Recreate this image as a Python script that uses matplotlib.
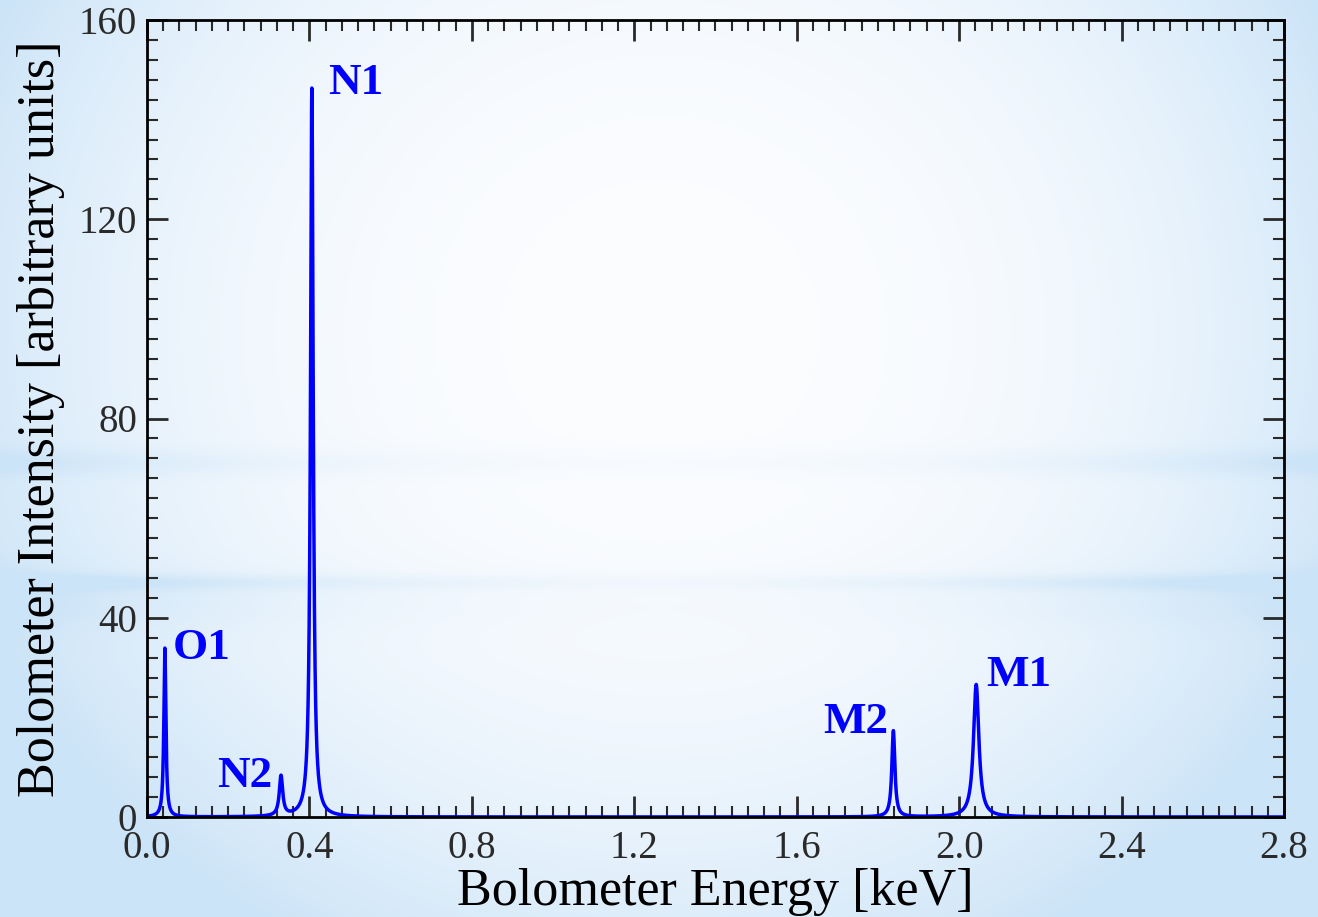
import numpy as np
import matplotlib
matplotlib.use("Agg")
import matplotlib.pyplot as plt
from matplotlib.ticker import MultipleLocator

# Emission lines: name, centre energy [keV], peak intensity, Lorentzian half-width [keV]
line_names = ["O1", "N2", "N1", "M2", "M1"]
line_energy = [0.044, 0.330, 0.406, 1.838, 2.042]
line_height = [33.9, 8.0, 146.3, 17.3, 26.6]
line_width = [0.003, 0.005, 0.004, 0.0045, 0.008]

# Label anchor points (keV, intensity) and alignment
label_x = [0.064, 0.308, 0.446, 1.825, 2.067]
label_y = [33.9, 8.2, 147.4, 19.1, 28.5]
label_ha = ["left", "right", "left", "right", "left"]

x_ticks = [0.0, 0.4, 0.8, 1.2, 1.6, 2.0, 2.4, 2.8]
y_ticks = [0, 40, 80, 120, 160]

W, H, DPI = 1318, 917, 100
fig = plt.figure(figsize=(W / DPI, H / DPI), dpi=DPI)

# Soft blue backdrop with horizontal light streaks
yy, xx = np.mgrid[0:H, 0:W].astype(float)
r = np.sqrt(((xx - 660) / 740) ** 2 + ((yy - 330) / 700) ** 2)
t = np.clip(r, 0, 1) ** 2.6
white = np.array([0.985, 0.99, 1.0])
blue = np.array([0.80, 0.895, 0.97])
edge = np.clip(np.abs(xx - 660) / 660, 0, 1) ** 1.5
band = (0.30 * np.exp(-((yy - 462) / 14) ** 2) + 0.50 * np.exp(-((yy - 582) / 8) ** 2)
        + 0.22 * np.exp(-((yy - 600) / 30) ** 2)) * (0.25 + 0.75 * edge)
t = np.clip(t + band, 0, 1)
bg = white[None, None, :] * (1 - t[..., None]) + blue[None, None, :] * t[..., None]
bg_ax = fig.add_axes([0, 0, 1, 1], zorder=-10)
bg_ax.imshow(bg, aspect="auto", interpolation="bilinear")
bg_ax.axis("off")

ax = fig.add_axes([147 / W, 1 - 817 / H, (1284 - 147) / W, (817 - 20) / H])
ax.patch.set_alpha(0)

energy = np.linspace(0.0, 2.8, 20001)
spectrum = np.zeros_like(energy)
for e0, a, g in zip(line_energy, line_height, line_width):
    spectrum += a * g ** 2 / ((energy - e0) ** 2 + g ** 2)

ax.plot(energy, spectrum, color="#0000ff", lw=2.5, solid_joinstyle="round")

serif = ["Liberation Serif", "DejaVu Serif"]
for name, lx, ly, ha in zip(line_names, label_x, label_y, label_ha):
    ax.text(lx, ly, name, color="#0000ff", fontsize=32.5, fontweight="bold",
            family=serif, ha=ha, va="center")

ax.set_xlim(0, 2.8)
ax.set_ylim(0, 160)
ax.set_xticks(x_ticks)
ax.set_yticks(y_ticks)
ax.set_xticklabels([f"{v:.1f}" for v in x_ticks], family=serif, fontsize=28)
ax.set_yticklabels([str(v) for v in y_ticks], family=serif, fontsize=28)
ax.xaxis.set_minor_locator(MultipleLocator(0.04))
ax.yaxis.set_minor_locator(MultipleLocator(4))
ax.tick_params(which="both", direction="in", top=True, right=True, colors="#2a2a2a")
ax.tick_params(which="major", length=15, width=2)
ax.tick_params(axis="x", which="major", pad=9)
ax.tick_params(axis="y", which="major", pad=7)
ax.tick_params(which="minor", length=8, width=1.5)
for s in ax.spines.values():
    s.set_linewidth(2)
    s.set_color("black")

ax.set_xlabel("Bolometer Energy [keV]", family=serif, fontsize=37.5, labelpad=1)
ax.set_ylabel("Bolometer Intensity [arbitrary units]", family=serif, fontsize=37.5, labelpad=10)

fig.savefig("out.png", dpi=DPI)
